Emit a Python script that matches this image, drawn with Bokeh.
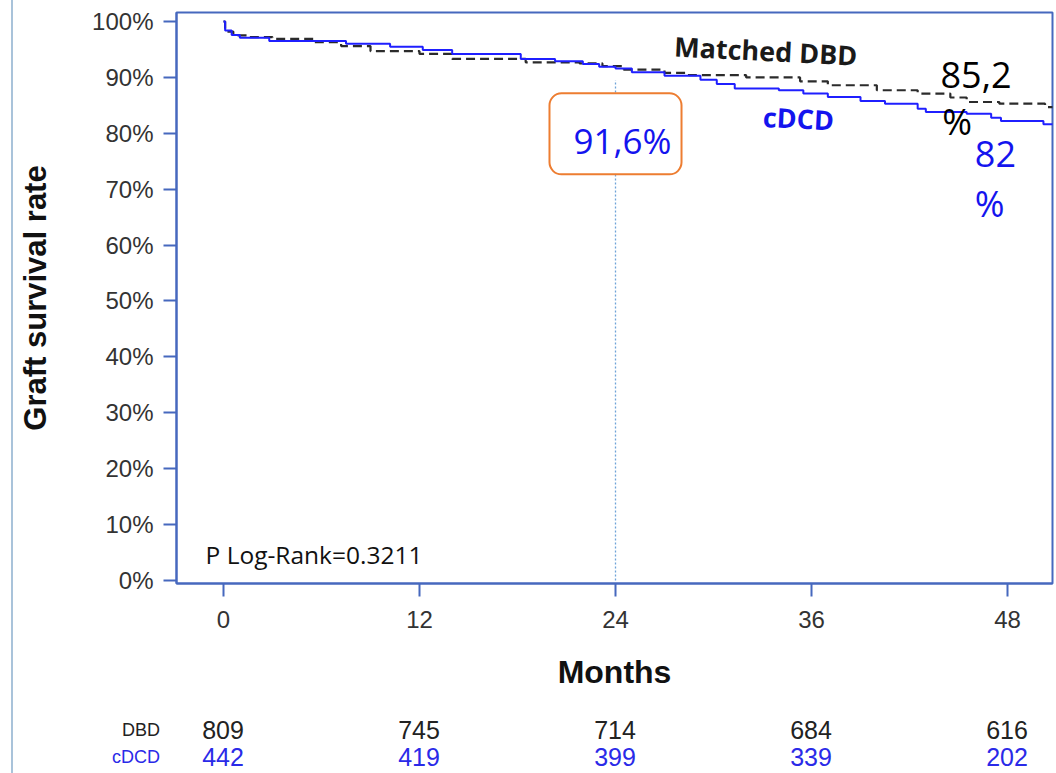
from bokeh.plotting import figure
from bokeh.models import Range1d, Label, FixedTicker, CustomJSTickFormatter, Div
from bokeh.layouts import column
from bokeh.embed import file_html
from bokeh.resources import INLINE

# ---------------- data ----------------
dbd_months = [0, 0.1, 0.6, 1.5, 3.0, 5.5, 7.2, 9.0, 12.0, 14.0, 18.5, 21.8, 23.2, 24.5, 27.0, 28.5,
              32.0, 35.3, 37.0, 40.0, 42.5, 44.5, 45.5, 47.5, 50.3, 50.8]
dbd_surv = [100, 98.2, 97.5, 97.2, 96.9, 96.3, 95.6, 94.7, 94.2, 93.3, 92.7, 92.5, 92.0, 91.4, 90.8, 90.4,
            90.0, 89.3, 88.6, 87.7, 87.1, 86.4, 85.6, 85.3, 84.7, 84.7]

cdcd_months = [0, 0.1, 0.5, 1.0, 2.8, 7.5, 10.2, 12.2, 14.0, 18.2, 20.3, 22.0, 23.0, 24.0, 25.0, 27.0,
               29.2, 30.2, 31.3, 34.0, 35.5, 37.0, 39.0, 40.5, 42.5, 43.0, 45.5, 47.0, 47.6, 50.2, 50.8]
cdcd_surv = [100, 98.4, 97.6, 97.1, 96.5, 96.0, 95.5, 94.9, 94.2, 93.3, 92.9, 92.4, 91.9, 91.6, 90.9, 90.3,
             89.6, 88.8, 88.0, 87.7, 87.1, 86.5, 85.8, 85.3, 84.4, 83.8, 83.5, 82.8, 82.2, 81.6, 81.6]

x_ticks = [0, 12, 24, 36, 48]
y_ticks = [0, 10, 20, 30, 40, 50, 60, 70, 80, 90, 100]
risk_groups = ["DBD", "cDCD"]
risk_dbd = [809, 745, 714, 684, 616]
risk_cdcd = [442, 419, 399, 339, 202]

highlight_month = 24
highlight_text = "91,6%"
dbd_end_text = ["85,2", "%"]
cdcd_end_text = ["82", "%"]
pvalue_text = "P Log-Rank=0.3211"

# ---------------- styling ----------------
AX = "#4668be"
BLUE = "#1f1fff"
TXT_BLUE = "#1414ee"
W = 1056
H1 = 705
H2 = 68
FRAME_L, FRAME_R = 176, 1052
X0, X1 = -2.878, 50.755

# ---------------- main figure ----------------
p = figure(width=W, height=H1, output_backend="svg", toolbar_location=None,
           x_range=Range1d(X0, X1), y_range=Range1d(-0.537, 101.61),
           min_border_left=FRAME_L, min_border_right=W - FRAME_R, min_border_top=12,
           min_border_bottom=H1 - 583)
p.grid.visible = False
p.outline_line_color = AX
p.outline_line_width = 2
p.background_fill_color = "white"
p.border_fill_color = "white"

for ax in (p.xaxis[0], p.yaxis[0]):
    ax.axis_line_color = AX
    ax.axis_line_width = 2
    ax.major_tick_line_color = AX
    ax.major_tick_line_width = 2
    ax.major_tick_out = 13
    ax.major_tick_in = 0
    ax.minor_tick_line_color = None
    ax.major_label_text_font = "Liberation Sans"
    ax.major_label_text_font_size = "24px"
    ax.major_label_text_color = "#333333"
    ax.axis_label_text_font = "Liberation Sans"
    ax.axis_label_text_font_style = "bold"
    ax.axis_label_text_color = "#111111"

p.xaxis.ticker = FixedTicker(ticks=x_ticks)
p.yaxis.ticker = FixedTicker(ticks=y_ticks)
p.yaxis.formatter = CustomJSTickFormatter(code="return tick.toFixed(0) + '%';")
p.xaxis.major_label_standoff = 14
p.yaxis.major_label_standoff = 10
p.xaxis.axis_label = "Months"
p.xaxis.axis_label_text_font_size = "32px"
p.xaxis.axis_label_standoff = 23
p.yaxis.axis_label = "Graft survival rate"
p.yaxis.axis_label_text_font_size = "31px"
p.yaxis.axis_label_standoff = 36

# dotted reference line at 24 months
p.segment(x0=[highlight_month], y0=[0], x1=[highlight_month], y1=[89.5],
          line_color="#6fa3d8", line_width=1.3, line_dash="2 2")

# survival curves
p.step(dbd_months, dbd_surv, mode="after", line_color="#2b2b2b", line_width=2.2, line_dash="9 5")
p.step(cdcd_months, cdcd_surv, mode="after", line_color=BLUE, line_width=2)

# boxed 24-month value
p.add_layout(Label(x=highlight_month, y=79.9, text=highlight_text, text_align="center",
                   text_baseline="middle", text_font="Open Sans", text_font_size="35px",
                   text_color=TXT_BLUE, background_fill_color="white",
                   border_line_color="#ed7d31", border_line_width=2,
                   padding=[24, 10, 24, 10], border_radius=12))

# curve labels
p.add_layout(Label(x=33.2, y=94.8, text="Matched DBD", text_align="center", text_baseline="middle",
                   text_font="Open Sans", text_font_style="bold", text_font_size="27px",
                   text_color="#1a1a1a", angle=-0.05))
p.add_layout(Label(x=35.2, y=82.7, text="cDCD", text_align="center", text_baseline="middle",
                   text_font="Open Sans", text_font_style="bold", text_font_size="27px",
                   text_color=TXT_BLUE, angle=-0.05))
p.add_layout(Label(x=43.9, y=90.4, text=dbd_end_text[0], text_align="left", text_baseline="middle",
                   text_font="Open Sans", text_font_size="36px", text_color="black"))
p.add_layout(Label(x=44.0, y=82.1, text=dbd_end_text[1], text_align="left", text_baseline="middle",
                   text_font="Open Sans", text_font_size="36px", text_color="black"))
p.add_layout(Label(x=46.0, y=76.3, text=cdcd_end_text[0], text_align="left", text_baseline="middle",
                   text_font="Open Sans", text_font_size="36px", text_color=TXT_BLUE))
p.add_layout(Label(x=46.0, y=67.4, text=cdcd_end_text[1], text_align="left", text_baseline="middle",
                   text_font="Open Sans", text_font_size="36px", text_color=TXT_BLUE))
p.add_layout(Label(x=-1.1, y=4.7, text=pvalue_text, text_align="left", text_baseline="middle",
                   text_font="Open Sans", text_font_size="24.5px", text_color="#111111"))

# ---------------- numbers-at-risk table (HTML text, positioned on the same month scale) ----------------
px_per_month = (FRAME_R - FRAME_L) / (X1 - X0)


def month_to_px(m):
    return FRAME_L + (m - X0) * px_per_month


row_tops = [730 - H1, 757 - H1]
row_colors = ["#222222", "#2a2ae8"]
spans = []
for gi, vals in enumerate([risk_dbd, risk_cdcd]):
    spans.append(
        f'<span style="position:absolute;left:{month_to_px(-3.86):.1f}px;top:{row_tops[gi]}px;'
        f'transform:translate(-100%,-50%);font:18px \'Liberation Sans\';color:{row_colors[gi]};'
        f'white-space:nowrap;line-height:1;">{risk_groups[gi]}</span>')
    for m, v in zip(x_ticks, vals):
        spans.append(
            f'<span style="position:absolute;left:{month_to_px(m):.1f}px;top:{row_tops[gi]}px;'
            f'transform:translate(-50%,-50%);font:25px \'Liberation Sans\';color:{row_colors[gi]};'
            f'white-space:nowrap;line-height:1;">{v}</span>')
spans.append('<span style="position:fixed;left:11px;top:0px;width:2px;height:773px;'
             'background:#a9c3da;z-index:1000;"></span>')
table = Div(text="".join(spans), width=W, height=H2,
            styles={"position": "relative", "overflow": "visible", "margin": "0", "padding": "0"})

layout = column(p, table, spacing=0)
open("out.html", "w").write(file_html(layout, INLINE))
